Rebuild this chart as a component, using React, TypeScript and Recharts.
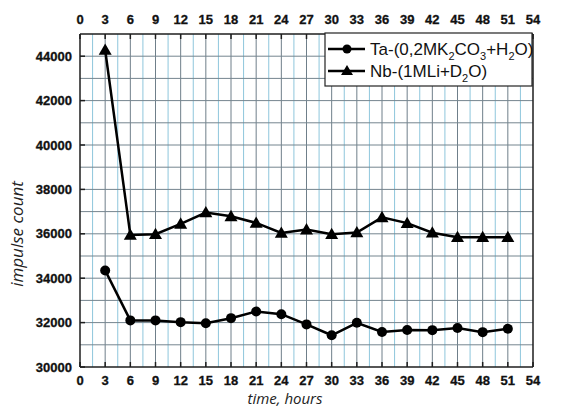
import React from 'react';
import { LineChart, Line, XAxis, YAxis, ReferenceLine } from 'recharts';

const hours = [3, 6, 9, 12, 15, 18, 21, 24, 27, 30, 33, 36, 39, 42, 45, 48, 51];
const taValues = [34350, 32100, 32100, 32020, 31970, 32200, 32500, 32380, 31920, 31430, 31990, 31580, 31670, 31660, 31760, 31570, 31720];
const nbValues = [44280, 35950, 35980, 36450, 36960, 36790, 36490, 36040, 36190, 35980, 36060, 36740, 36480, 36050, 35850, 35850, 35850];
const xTicks = [0, 3, 6, 9, 12, 15, 18, 21, 24, 27, 30, 33, 36, 39, 42, 45, 48, 51, 54];
const yTicks = [30000, 32000, 34000, 36000, 38000, 40000, 42000, 44000];
const taLabel = 'Ta';
const nbLabel = 'Nb';

const data = hours.map((h, i) => ({ h, ta: taValues[i], nb: nbValues[i] }));

const X_MIN = 0;
const X_MAX = 54;
const Y_MIN = 30000;
const Y_MAX = 45000;

const minorX: number[] = [];
for (let v = X_MIN + 1.5; v < X_MAX; v += 3) minorX.push(v);
const majorX: number[] = xTicks.filter((v) => v > X_MIN && v < X_MAX);
const hLines: number[] = [];
for (let v = Y_MIN + 1000; v < Y_MAX; v += 1000) hLines.push(v);

const AXIS = '#1e1e1e';
const FONT = 'Arial, "Liberation Sans", sans-serif';
const tickStyle: React.CSSProperties = { fontFamily: FONT, fontWeight: 700, fontSize: 13 };

const BottomTick = (p: any) => (
  <g>
    <line x1={p.x} x2={p.x} y1={p.y} y2={p.y - 5} stroke={AXIS} strokeWidth={1.5} />
    <text x={p.x} y={p.y + 18} textAnchor="middle" style={tickStyle} fill="#111" stroke="#111" strokeWidth={0.3}>
      {p.payload.value}
    </text>
  </g>
);
const TopTick = (p: any) => (
  <g>
    <line x1={p.x} x2={p.x} y1={p.y} y2={p.y + 5} stroke={AXIS} strokeWidth={1.5} />
    <text x={p.x} y={p.y - 10} textAnchor="middle" style={tickStyle} fill="#111" stroke="#111" strokeWidth={0.3}>
      {p.payload.value}
    </text>
  </g>
);
const LeftTick = (p: any) => (
  <g>
    <line x1={p.x} x2={p.x + 5} y1={p.y} y2={p.y} stroke={AXIS} strokeWidth={1.5} />
    <text x={p.x - 8} y={p.y + 4.5} textAnchor="end" style={tickStyle} fill="#111" stroke="#111" strokeWidth={0.3}>
      {p.payload.value}
    </text>
  </g>
);
const RightTick = (p: any) => (
  <g>
    <line x1={p.x} x2={p.x - 5} y1={p.y} y2={p.y} stroke={AXIS} strokeWidth={1.5} />
    <text x={p.x + 5} y={p.y + 4.5} textAnchor="start" style={tickStyle} fill="#111" stroke="#111" strokeWidth={0.3}>
      {p.payload.value}
    </text>
  </g>
);

const Triangle = (p: any) => {
  const { cx, cy } = p;
  if (cx == null || cy == null) return null;
  const s = 6.5;
  return <path d={`M${cx},${cy - s} L${cx + s},${cy + s * 0.75} L${cx - s},${cy + s * 0.75} Z`} fill="#000" />;
};

export default function App() {
  return (
    <div style={{ position: 'absolute', left: 0, top: 0, width: 579, height: 408, background: '#fff' }}>
      <LineChart width={579} height={408} data={data} margin={{ top: 0, right: 0, bottom: 0, left: 0 }}>
        <XAxis
          xAxisId="bottom"
          dataKey="h"
          type="number"
          domain={[X_MIN, X_MAX]}
          ticks={xTicks}
          orientation="bottom"
          height={41}
          tickSize={0}
          tickMargin={0}
          tickLine={false}
          axisLine={{ stroke: AXIS, strokeWidth: 1.5 }}
          tick={<BottomTick />}
          interval={0}
        />
        <XAxis
          xAxisId="top"
          dataKey="h"
          type="number"
          domain={[X_MIN, X_MAX]}
          ticks={xTicks}
          orientation="top"
          height={34}
          tickSize={0}
          tickMargin={0}
          tickLine={false}
          axisLine={{ stroke: AXIS, strokeWidth: 1.5 }}
          tick={<TopTick />}
          interval={0}
        />
        <YAxis
          yAxisId="left"
          type="number"
          domain={[Y_MIN, Y_MAX]}
          ticks={yTicks}
          orientation="left"
          width={80}
          tickSize={0}
          tickMargin={0}
          tickLine={false}
          axisLine={{ stroke: AXIS, strokeWidth: 1.5 }}
          tick={<LeftTick />}
          interval={0}
        />
        <YAxis
          yAxisId="right"
          type="number"
          domain={[Y_MIN, Y_MAX]}
          ticks={yTicks}
          orientation="right"
          width={46}
          tickSize={0}
          tickMargin={0}
          tickLine={false}
          axisLine={{ stroke: AXIS, strokeWidth: 1.5 }}
          tick={<RightTick />}
          interval={0}
        />
        {minorX.map((v) => (
          <ReferenceLine key={'mx' + v} x={v} xAxisId="bottom" yAxisId="left" stroke="#8ec6dc" strokeWidth={1} />
        ))}
        {majorX.map((v) => (
          <ReferenceLine key={'Mx' + v} x={v} xAxisId="bottom" yAxisId="left" stroke="#6f7f8a" strokeWidth={1} />
        ))}
        {hLines.map((v) => (
          <ReferenceLine key={'h' + v} y={v} xAxisId="bottom" yAxisId="left" stroke="#75858f" strokeWidth={1} />
        ))}
        <Line
          xAxisId="bottom"
          yAxisId="left"
          dataKey="ta"
          name={taLabel}
          stroke="#000"
          strokeWidth={2.5}
          dot={{ r: 5, fill: '#000', stroke: '#000', strokeWidth: 0 }}
          isAnimationActive={false}
        />
        <Line
          xAxisId="bottom"
          yAxisId="left"
          dataKey="nb"
          name={nbLabel}
          stroke="#000"
          strokeWidth={2.5}
          dot={<Triangle />}
          isAnimationActive={false}
        />
      </LineChart>
      <svg
        width={579}
        height={408}
        style={{ position: 'absolute', left: 0, top: 0, pointerEvents: 'none' }}
      >
        <rect x={325} y={33} width={207} height={53} fill="#fff" stroke="#222" strokeWidth={1.2} />
        <line x1={328} x2={365} y1={49} y2={49} stroke="#000" strokeWidth={2.5} />
        <circle cx={347} cy={49} r={4.5} fill="#000" />
        <text x={370} y={55} fontFamily={FONT} fontSize={17} fill="#111">
          {taLabel}-(0,2MK
          <tspan fontSize={11} dy={5}>2</tspan>
          <tspan dy={-5}>CO</tspan>
          <tspan fontSize={11} dy={5}>3</tspan>
          <tspan dy={-5}>+H</tspan>
          <tspan fontSize={11} dy={5}>2</tspan>
          <tspan dy={-5}>O)</tspan>
        </text>
        <line x1={328} x2={365} y1={71} y2={71} stroke="#000" strokeWidth={2.5} />
        <path d="M347,65 L353,75 L341,75 Z" fill="#000" />
        <text x={370} y={77} fontFamily={FONT} fontSize={17} fill="#111">
          {nbLabel}-(1MLi+D
          <tspan fontSize={11} dy={5}>2</tspan>
          <tspan dy={-5}>O)</tspan>
        </text>
        <text
          x={285}
          y={404}
          textAnchor="middle"
          fontFamily='"Open Sans", sans-serif'
          fontStyle="italic"
          fontSize={15}
          fill="#222"
        >
          time, hours
        </text>
        <text
          x={23}
          y={234}
          textAnchor="middle"
          transform="rotate(-90, 23, 234)"
          fontFamily='"Open Sans", sans-serif'
          fontStyle="italic"
          fontSize={17}
          fill="#222"
        >
          impulse count
        </text>
      </svg>
    </div>
  );
}
